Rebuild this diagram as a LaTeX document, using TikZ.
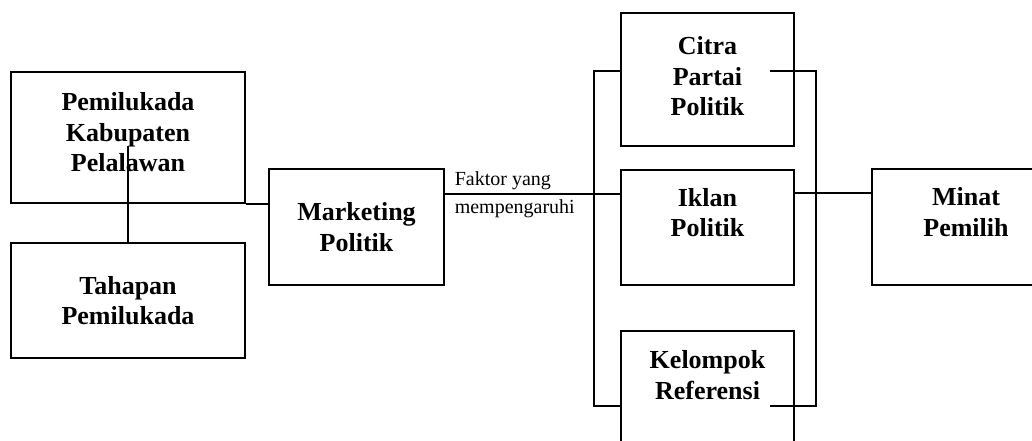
\documentclass[tikz,border=0pt]{standalone}
\usepackage{fontspec}
\setmainfont{Liberation Serif}
\usepackage{tikz}

\begin{document}
\begin{tikzpicture}[x=1pt,y=-1pt,line width=1.8pt,
  box node/.style={rectangle,draw,align=center,inner sep=0pt,
  font=\fontsize{26}{30.5}\selectfont\bfseries},
  note node/.style={font=\fontsize{20}{22}\selectfont,inner sep=1pt}]

  \clip (0,0) rectangle (1032,441);

  \node[box node,minimum width=234pt,minimum height=131pt] (pemi) at (128,137.5) {Pemilukada\\Kabupaten\\Pelalawan\\[-19.5pt]~};
  \node[box node,minimum width=234pt,minimum height=115pt] (tahap) at (128,300.5) {Tahapan\\Pemilukada};
  \node[box node,minimum width=175pt,minimum height=116pt] (market) at (356.5,227) {Marketing\\Politik};

  \node[box node,minimum width=173pt,minimum height=133pt] (citra) at (707.5,79.5) {Citra\\Partai\\Politik\\[-23.5pt]~};
  \node[box node,minimum width=173pt,minimum height=115pt] (iklan) at (707.5,227.5) {Iklan\\Politik\\~};
  \node[box node,minimum width=173pt,minimum height=118pt] (kelompok) at (707.5,390) {Kelompok\\Referensi\\~};

  \node[box node,minimum width=188pt,minimum height=116pt] (minat) at (966,227) {Minat\\Pemilih\\~};

  \coordinate (pemiend) at (128,146);
  \coordinate (lt) at (594,71);
  \coordinate (lb) at (594,406);
  \coordinate (rt) at (816,71);
  \coordinate (rb) at (816,406);
  \coordinate (rts) at (770,71);
  \coordinate (rbs) at (770,406);

%kiri
  \draw (pemiend) -- (tahap.north);
  \draw (pemi.south east) -- (pemi.south east -| market.west);

%faktor
  \draw ([yshift=33pt]market.east) -- ([yshift=33pt]market.east -| iklan.west)
    node[note node,pos=0,anchor=south west,xshift=8pt,yshift=2pt] {Faktor yang}
    node[note node,pos=0,anchor=north west,xshift=8pt,yshift=-4pt] {mempengaruhi};
  \draw (lt -| citra.west) -- (lt) -- (lb) -- (lb -| kelompok.west);
  \draw (rts) -- (rt) -- (rb) -- (rbs);

%minat
  \draw ([yshift=34.5pt]iklan.east) -- ([yshift=34.5pt]iklan.east -| minat.west);

\end{tikzpicture}
\end{document}
